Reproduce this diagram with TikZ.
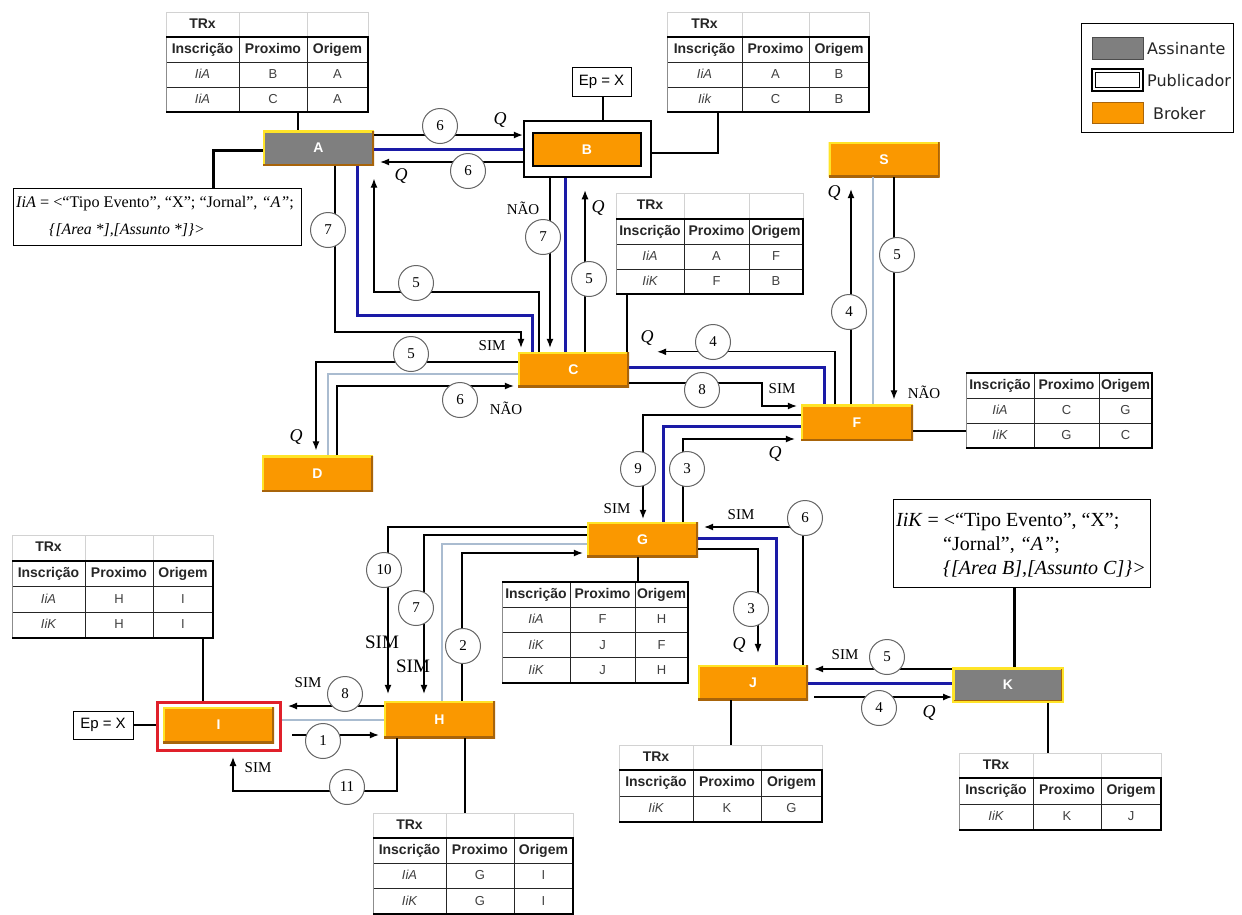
\documentclass[tikz,border=0pt]{standalone}
\usepackage{fontspec}
\setmainfont{Liberation Serif}
\newfontfamily\arialf{Liberation Sans}
\newfontfamily\dejaf{DejaVu Sans}
\usetikzlibrary{arrows.meta,calc}
\definecolor{orng}{RGB}{250,152,0}
\definecolor{gboxc}{RGB}{127,127,127}
\definecolor{yl}{RGB}{255,228,40}
\definecolor{brn}{RGB}{168,100,10}
\definecolor{navyb}{RGB}{26,26,166}
\definecolor{paleb}{RGB}{170,188,208}
\definecolor{redc}{RGB}{224,32,42}
\definecolor{trxgc}{RGB}{210,210,210}
\newcommand\fsz[2]{\fontsize{#1}{#2}\selectfont}
% TRx row: name, x0, x1, x2, x3, ytop
\newcommand\trxrow[6]{%
  \coordinate (#1-ttop) at (#2,#6);
  \draw[trxg] (#2,#6) rectangle (#5,#6+25);
  \draw[trxg] (#3,#6) -- (#3,#6+25) (#4,#6) -- (#4,#6+25);
  \node[thd] (#1-trx) at ({(#2+#3)/2},#6+12.5) {TRx};
}
% table: name, x0, x1, x2, x3, ytop(header), rowh, nrows, rows
\newcommand\rtab[9]{%
  \pgfmathsetmacro\yb{#6+(#8+1)*#7}%
  \coordinate (#1-top) at (#2,#6);
  \coordinate (#1-bot) at (#2,\yb);
  \node[thd] (#1-h1) at ({(#2+#3)/2},{#6+#7/2}) {Inscrição};
  \node[thd] (#1-h2) at ({(#3+#4)/2},{#6+#7/2}) {Proximo};
  \node[thd] (#1-h3) at ({(#4+#5)/2},{#6+#7/2}) {Origem};
  \foreach \ca/\cb/\cc [count=\i] in {#9} {
    \node[tdi] (#1-\i-1) at ({(#2+#3)/2},{#6+(\i+0.5)*#7}) {\ca};
    \node[td] (#1-\i-2) at ({(#3+#4)/2},{#6+(\i+0.5)*#7}) {\cb};
    \node[td] (#1-\i-3) at ({(#4+#5)/2},{#6+(\i+0.5)*#7}) {\cc};
    \draw[tin] (#2,{#6+\i*#7}) -- (#5,{#6+\i*#7});
  }
  \draw[tin] (#3,#6) -- (#3,\yb) (#4,#6) -- (#4,\yb);
  \draw[tleft] (#2,#6) -- (#2,\yb);
  \draw[tout] (#2,\yb) -- (#5,\yb) -- (#5,#6) -- (#2,#6);
}
\begin{document}
\begin{tikzpicture}[x=1pt,y=-1pt,
  ln/.style={line width=1.2pt, draw=black},
  arr/.style={ln, -{Latex[length=9pt,width=7pt]}},
  blu/.style={line width=3pt, draw=navyb},
  lgt/.style={line width=1.1pt, draw=paleb},
  thk/.style={line width=3pt, draw=black},
  cnum/.style={circle, draw=black!60, line width=1pt, fill=white, minimum size=35pt, inner sep=0pt, font=\fsz{15}{17}},
  slab/.style={font=\fsz{15}{17}, inner sep=1pt},
  blab/.style={font=\fsz{19}{21}, inner sep=1pt},
  qlab/.style={font=\fsz{18}{20}\itshape, inner sep=1pt},
  brk/.style={fill=orng, minimum height=35pt, minimum width=111pt, inner sep=0pt, text=white,
    font=\arialf\bfseries\fsz{14}{16},
    path picture={
      \draw[yl,line width=4pt] (path picture bounding box.south west) -- (path picture bounding box.north west) -- (path picture bounding box.north east);
      \draw[brn,line width=4pt] (path picture bounding box.north east) -- (path picture bounding box.south east) -- (path picture bounding box.south west);}},
  subs/.style={brk, fill=gboxc},
  thd/.style={font=\arialf\bfseries\fsz{14}{16}, inner sep=0pt, text=black!85, text height=10.5pt, text depth=3pt},
  td/.style={font=\arialf\fsz{13}{15}, inner sep=0pt, text=black!75, text height=10pt, text depth=2.5pt},
  tdi/.style={td, font=\arialf\itshape\fsz{13}{15}},
  tin/.style={line width=1pt, draw=black!85},
  tout/.style={line width=2pt, draw=black},
  tleft/.style={line width=0.8pt, draw=black!45},
  trxg/.style={line width=0.8pt, draw=trxgc},
  legtxt/.style={font=\dejaf\fsz{16}{18}, inner sep=0pt, anchor=west, text=black!85},
  epbox/.style={draw=black, line width=1pt, fill=white, font=\arialf\fsz{15}{17}, inner sep=0pt},
  txtbox/.style={draw=black, line width=1pt, fill=white},
  ser/.style={inner sep=0pt, anchor=base west}
]
\useasboundingbox (0,0) rectangle (1242,914);
\fill[white] (0,0) rectangle (1242,914);

% ---------- tables ----------
\trxrow{tA}{166}{239}{307}{368}{12}
\rtab{tA}{166}{239}{307}{368}{37}{25}{2}{IiA/B/A,IiA/C/A}
\trxrow{tB}{667}{742}{809}{869}{12}
\rtab{tB}{667}{742}{809}{869}{37}{25}{2}{IiA/A/B,Iik/C/B}
\trxrow{tC}{616}{684}{749}{803}{193}
\rtab{tC}{616}{684}{749}{803}{219}{25}{2}{IiA/A/F,IiK/F/B}
\rtab{tF}{966}{1034}{1099}{1152}{373}{25}{2}{IiA/C/G,IiK/G/C}
\rtab{tG}{502}{570}{635}{688}{582}{25.3}{3}{IiA/F/H,IiK/J/F,IiK/J/H}
\trxrow{tI}{12}{85}{153}{213}{535}
\rtab{tI}{12}{85}{153}{213}{561}{25.5}{2}{IiA/H/I,IiK/H/I}
\trxrow{tH}{373}{446}{514}{573}{813}
\rtab{tH}{373}{446}{514}{573}{838}{25.3}{2}{IiA/G/I,IiK/G/I}
\trxrow{tJ}{619}{693}{761}{822}{745}
\rtab{tJ}{619}{693}{761}{822}{770}{26}{1}{IiK/K/G}
\trxrow{tK}{959}{1033}{1101}{1161}{753}
\rtab{tK}{959}{1033}{1101}{1161}{778}{26}{1}{IiK/K/J}

% ---------- boxes ----------
\node[subs] (A) at (318.5,148) {A};
\node[draw=black, line width=2.5pt, fill=white, minimum width=127pt, minimum height=56pt] (Bo) at (587.5,149) {};
\node[fill=orng, draw=black, line width=2pt, minimum width=108pt, minimum height=33pt, text=white, font=\arialf\bfseries\fsz{14}{16}] (B) at (587,149.5) {B};
\node[brk] (S) at (884,159.5) {S};
\node[brk] (C) at (573.5,369.5) {C};
\node[brk, minimum height=36pt] (D) at (317.5,473.5) {D};
\node[brk, minimum width=112pt, minimum height=36pt] (F) at (857,422.5) {F};
\node[brk] (G) at (642.5,539.5) {G};
\node[brk, minimum height=37pt] (H) at (439.5,719.5) {H};
\node[draw=redc, line width=3pt, fill=white, minimum width=123pt, minimum height=48pt] (Iout) at (219,726.5) {};
\node[brk, minimum height=36pt] (I) at (218.5,725) {I};
\node[brk, minimum width=110pt] (J) at (753,682.5) {J};
\node[subs, minimum width=110pt, minimum height=34pt, draw=yl, line width=2pt] (K) at (1008,685) {K};
\node[epbox, minimum width=59pt, minimum height=29pt] (EpB) at (601.5,81.5) {Ep = X};
\node[epbox, minimum width=60pt, minimum height=28pt] (EpI) at (103,725) {Ep = X};

% text boxes
\node[txtbox, minimum width=288pt, minimum height=57pt] (iiA) at (157,216.5) {};
\node[ser, font=\fsz{16.2}{18}] (iiA1) at (16,207) {\textit{IiA} = <“Tipo Evento”, “X”; “Jornal”, \textit{“A”};};
\node[ser, font=\fsz{15.8}{17}] (iiA2) at (49,234) {\textit{\{[Area *],[Assunto *]\}>}};
\node[txtbox, minimum width=257pt, minimum height=88pt] (iiK) at (1021.5,543) {};
\node[ser, font=\fsz{20}{22}] (iiK1) at (896,526) {\textit{IiK} = <“Tipo Evento”, “X”;};
\node[ser, font=\fsz{20}{22}] (iiK2) at (943,550) {“Jornal”, \textit{“A”};};
\node[ser, font=\fsz{20}{22}] (iiK3) at (943,574) {\textit{\{[Area B],[Assunto C]\}>}};

% legend
\node[draw=black, line width=1pt, minimum width=152pt, minimum height=109pt] (lg) at (1157,77.5) {};
\node[fill=gboxc, draw=black!70, minimum width=51pt, minimum height=22pt] (lg1) at (1117.5,48) {};
\node[draw=black, line width=1.2pt, fill=white, minimum width=51pt, minimum height=22pt] (lg2) at (1117.5,80) {};
\node[draw=black, line width=0.8pt, minimum width=44pt, minimum height=15pt] (lg2i) at (1117.5,80) {};
\node[fill=orng, draw=brn, minimum width=51pt, minimum height=21pt] (lg3) at (1117.5,112.5) {};
\node[legtxt] (lgA) at (1147,49) {Assinante};
\node[legtxt] (lgP) at (1147,81) {Publicador};
\node[legtxt] (lgB) at (1153,114) {Broker};

% ---------- attachments ----------
\draw[ln] (tA-bot -| 298,0) -- (A.north -| 298,0);
\draw[ln] (tB-bot -| 718,0) |- (Bo.east |- 0,153);
\draw[ln] (EpB.south -| 603,0) -- (Bo.north -| 603,0);
\draw[ln] (tC-bot -| 627,0) -- (C.north -| 627,0);
\draw[ln] (F.east |- 0,431) -- (tF-bot |- 0,431);
\draw[ln] (G.south -| 638,0) -- (tG-top -| 638,0);
\draw[ln] (tI-bot -| 203,0) -- (Iout.north -| 203,0);
\draw[ln] (EpI.east) -- (Iout.west |- EpI.east);
\draw[ln] (H.south -| 465,0) -- (tH-ttop -| 465,0);
\draw[ln] (J.south -| 731,0) -- (tJ-ttop -| 731,0);
\draw[ln] (K.south -| 1048,0) -- (tK-ttop -| 1048,0);
\draw[thk] (A.west |- 0,150) -| (iiA.north -| 213,0);
\draw[thk] (iiK.south -| 1014,0) -- (K.north -| 1014,0);

% ---------- connectors ----------
% A - B
\draw[arr] (A.east |- 0,135) -- (Bo.west |- 0,135);
\draw[arr, shorten >=6pt] (Bo.west |- 0,162) -- (A.east |- 0,162);
\draw[blu] (A.east |- 0,149) -- (Bo.west |- 0,149);
% A - C
\draw[arr, shorten >=4pt] (A.south -| 335,0) |- (521,332) -- (C.north -| 521,0);
\draw[blu] (A.south -| 357,0) |- (532,315) -- (C.north -| 532,0);
\draw[arr, shorten >=13pt] (C.north -| 539,0) |- (374,292) -- (A.south -| 374,0);
% B - C
\draw[arr, shorten >=4pt] (Bo.south -| 550,0) -- (C.north -| 550,0);
\draw[blu] (Bo.south -| 565,0) -- (C.north -| 565,0);
\draw[arr, shorten >=12pt] (C.north -| 585,0) -- (Bo.south -| 585,0);
% C - D
\draw[arr, shorten >=5pt] (C.west |- 0,362) -| (D.north -| 316,0);
\draw[lgt] (C.west |- 0,374) -| (D.north -| 328,0);
\draw[arr, shorten >=4pt] (D.north -| 337,0) |- (C.west |- 0,386);
% C - F
\draw[arr] (F.north -| 835,0) |- ([xshift=28pt]C.north east);
\draw[blu] (C.east |- 0,367) -| (F.north -| 824,0);
\draw[arr, shorten >=4pt] (C.east |- 0,383) -- (762,383) |- (F.west |- 0,406);
% F - S
\draw[arr, shorten >=12pt] (F.north -| 851,0) -- (S.south -| 851,0);
\draw[lgt] (S.south -| 873,0) -- (F.north -| 873,0);
\draw[arr, shorten >=5pt] (S.south -| 894,0) -- (F.north -| 894,0);
% F - G
\draw[arr, shorten >=3pt] (F.west |- 0,415) -| (G.north -| 643,0);
\draw[blu] (F.west |- 0,426) -| (G.north -| 663,0);
\draw[arr, shorten >=6pt] (G.north -| 683,0) |- (F.west |- 0,439);
% G - J
\draw[blu] (G.east |- 0,538) -| (J.north -| 776,0);
\draw[arr, shorten >=12pt] (G.east |- 0,549) -| (J.north -| 758,0);
\draw[arr, shorten >=6pt] (J.north -| 803,0) |- (G.east |- 0,527);
% J - K
\draw[arr, shorten >=6pt] (K.west |- 0,669) -- (J.east |- 0,669);
\draw[blu] (J.east |- 0,683) -- (K.west |- 0,683);
\draw[arr, shorten <=6pt] (J.east |- 0,697) -- (K.west |- 0,697);
% G - H
\draw[arr, shorten >=7pt] (G.west |- 0,527) -| (H.north -| 388,0);
\draw[arr, shorten >=7pt] (G.west |- 0,535) -| (H.north -| 424,0);
\draw[lgt] (G.west |- 0,544) -| (H.north -| 442,0);
\draw[arr, shorten >=4pt] (H.north -| 462,0) |- (G.west |- 0,553);
% H - I
\draw[arr, shorten >=6pt] (H.west |- 0,706) -- (Iout.east |- 0,706);
\draw[lgt] (Iout.east |- 0,720) -- (H.west |- 0,720);
\draw[arr, shorten <=10pt, shorten >=5pt] (Iout.east |- 0,735) -- (H.west |- 0,735);
\draw[arr, shorten >=5pt] (H.south -| 397,0) |- (233,791) -- (Iout.south -| 233,0);

% ---------- circles ----------
\node[cnum] (n6a) at (440,126) {6};
\node[cnum] (n6b) at (468,171) {6};
\node[cnum] (n7a) at (328,230) {7};
\node[cnum] (n5a) at (416,283) {5};
\node[cnum] (n7b) at (543,237) {7};
\node[cnum] (n5b) at (589,279) {5};
\node[cnum] (n5c) at (411,354) {5};
\node[cnum] (n6c) at (460,400) {6};
\node[cnum] (n4a) at (713,342) {4};
\node[cnum] (n8a) at (702,390) {8};
\node[cnum] (n4b) at (849,312) {4};
\node[cnum] (n5d) at (897,255) {5};
\node[cnum] (n9) at (638,469) {9};
\node[cnum] (n3a) at (687,469) {3};
\node[cnum] (n3b) at (751,609) {3};
\node[cnum] (n6d) at (805,518) {6};
\node[cnum] (n5e) at (887,657) {5};
\node[cnum] (n4c) at (879,708) {4};
\node[cnum] (n10) at (384,570) {10};
\node[cnum] (n7c) at (416,608) {7};
\node[cnum] (n2) at (463,646) {2};
\node[cnum] (n8b) at (345,694) {8};
\node[cnum] (n1) at (323,741) {1};
\node[cnum] (n11) at (347,787) {11};

% ---------- labels ----------
\node[qlab] (q1) at (500,120) {Q};
\node[qlab] (q2) at (401,176) {Q};
\node[slab] (s1) at (492,346) {SIM};
\node[slab] (no1) at (523,208) {NÃO};
\node[qlab] (q3) at (598,208) {Q};
\node[qlab] (q4) at (296,437) {Q};
\node[slab] (no2) at (506,408) {NÃO};
\node[qlab] (q5) at (647,338) {Q};
\node[slab] (s2) at (782,389) {SIM};
\node[qlab] (q6) at (834,193) {Q};
\node[slab] (no3) at (924,392) {NÃO};
\node[slab] (s3) at (617,509) {SIM};
\node[qlab] (q7) at (775,454) {Q};
\node[qlab] (q8) at (739,645) {Q};
\node[slab] (s4) at (741,515) {SIM};
\node[slab] (s5) at (845,655) {SIM};
\node[qlab] (q9) at (929,713) {Q};
\node[blab] (s6) at (382,642) {SIM};
\node[blab] (s7) at (413,666) {SIM};
\node[slab] (s8) at (308,683) {SIM};
\node[slab] (s9) at (258,768) {SIM};
\end{tikzpicture}
\end{document}
